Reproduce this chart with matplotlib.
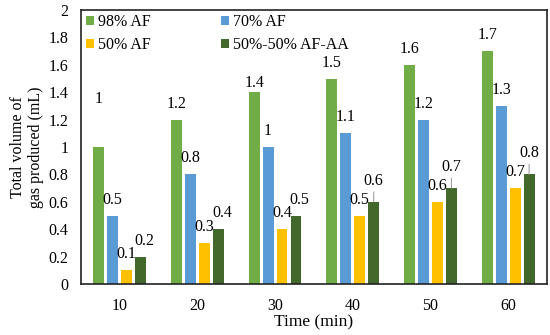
"""Total volume of gas produced over time for four AF blends."""

import matplotlib
matplotlib.use("Agg")
import matplotlib.pyplot as plt
from matplotlib.ticker import FuncFormatter
import numpy as np

times = ["10", "20", "30", "40", "50", "60"]
series_names = ["98% AF", "70% AF", "50% AF", "50%-50% AF-AA"]
af98 = [1.0, 1.2, 1.4, 1.5, 1.6, 1.7]
af70 = [0.5, 0.8, 1.0, 1.1, 1.2, 1.3]
af50 = [0.1, 0.3, 0.4, 0.5, 0.6, 0.7]
af50_aa = [0.2, 0.4, 0.5, 0.6, 0.7, 0.8]

colors = ["#70AD47", "#5B9BD5", "#FFC000", "#43682B"]

plt.rcParams["font.family"] = ["Liberation Serif", "DejaVu Serif"]
FS = 11.5

fig = plt.figure(figsize=(5.5, 3.35), dpi=100)
ax = fig.add_axes([0.147, 0.152, 0.8475, 0.818])

x = np.arange(len(times))
width = 0.14
step = 0.18
px = 72.0 / 100.0  # points per pixel

all_series = [af98, af70, af50, af50_aa]
handles = []
for i, (vals, name, col) in enumerate(zip(all_series, series_names, colors)):
    pos = x + (i - 1.5) * step
    bars = ax.bar(pos, vals, width=width, color=col, label=name, zorder=2)
    handles.append(bars)
    for j, (xp, v) in enumerate(zip(pos, vals)):
        dx, dy = 0, 16
        leader = False
        if i == 0 and j == 0:
            dy = 48
        elif i == 0 and j == 2:
            dy = 9
        elif i == 3 and j < 3:
            dx = 3.5
        elif i == 3:
            dy = 21
            leader = True
        label = f"{v:g}"
        ax.annotate(label, (xp, v), xytext=(dx * px, dy * px), textcoords="offset points",
                    ha="center", va="center", fontsize=FS, zorder=3)
        if leader:
            ax.annotate("", (xp, v), xytext=(xp, v + 10.0 / 137.0),
                        arrowprops=dict(arrowstyle="-", color="#A0A0A0", lw=0.8,
                                        shrinkA=0, shrinkB=0))

ax.set_xlim(-0.5, len(times) - 0.5)
ax.set_ylim(0, 2)
ax.set_yticks(np.arange(0, 2.01, 0.2))
ax.yaxis.set_major_formatter(FuncFormatter(lambda v, p: f"{round(v, 1):g}"))
ax.set_xticks(x)
ax.set_xticklabels(times)
ax.tick_params(axis="both", length=0, labelsize=FS)
ax.tick_params(axis="y", pad=9)
ax.tick_params(axis="x", pad=10)

for s in ax.spines.values():
    s.set_color("#222222")
    s.set_linewidth(1.2)

ax.set_xlabel("Time (min)", fontsize=FS + 1, labelpad=0)
ax.set_ylabel("Total volume of\ngas produced (mL)", fontsize=FS, labelpad=3,
              linespacing=1.2)

# row-major legend order: 98, 70 / 50, 50-50
order = [0, 2, 1, 3]
ax.legend([handles[k] for k in order], [series_names[k] for k in order],
          loc="upper left", bbox_to_anchor=(0.012, 0.985), ncol=2, frameon=False,
          fontsize=FS, handlelength=0.5, handleheight=0.5, handletextpad=0.25,
          columnspacing=4.4, labelspacing=0.45, borderpad=0, borderaxespad=0)

fig.savefig("out.png", dpi=100)
